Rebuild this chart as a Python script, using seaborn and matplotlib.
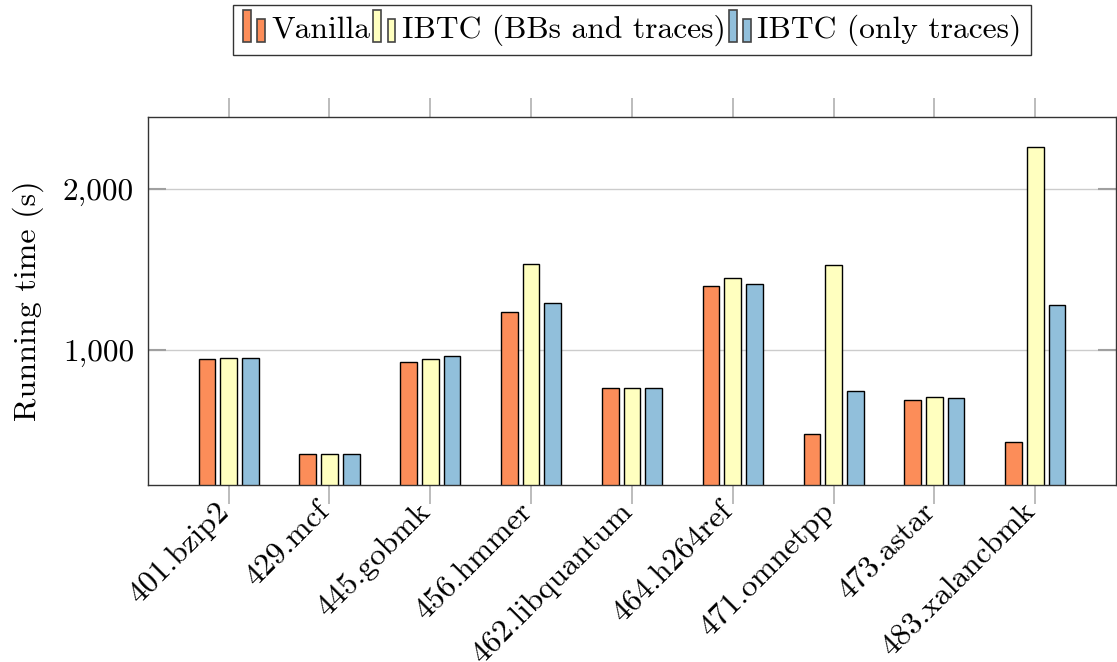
import matplotlib
matplotlib.use("Agg")
import matplotlib.pyplot as plt
from matplotlib.legend_handler import HandlerBase
from matplotlib.patches import Rectangle
from matplotlib.ticker import FuncFormatter, FixedLocator
from matplotlib.transforms import ScaledTranslation
import seaborn as sns
import pandas as pd

benchmarks = ["401.bzip2", "429.mcf", "445.gobmk", "456.hmmer", "462.libquantum",
              "464.h264ref", "471.omnetpp", "473.astar", "483.xalancbmk"]
vanilla = [944, 354, 925, 1236, 764, 1398, 478, 689, 429]
ibtc_bb = [950, 354, 944, 1534, 764, 1447, 1528, 708, 2261]
ibtc_tr = [950, 354, 963, 1292, 764, 1410, 745, 702, 1280]
series = ["Vanilla", "IBTC (BBs and traces)", "IBTC (only traces)"]
colors = ["#FC8D59", "#FFFFBF", "#91BFDB"]

rows = []
for name, vals in zip(series, [vanilla, ibtc_bb, ibtc_tr]):
    for b, v in zip(benchmarks, vals):
        rows.append({"bench": b, "series": name, "time": v})
df = pd.DataFrame(rows)

sns.set_theme(style="white")
plt.rcParams["font.family"] = ["cmr10", "DejaVu Serif"]
plt.rcParams["axes.formatter.use_mathtext"] = True
plt.rcParams["mathtext.fontset"] = "cm"
plt.rcParams["text.color"] = "black"
plt.rcParams["xtick.labelcolor"] = "black"
plt.rcParams["ytick.labelcolor"] = "black"
plt.rcParams["axes.labelcolor"] = "black"

fig = plt.figure(figsize=(11.17, 6.62), dpi=100)
ax = fig.add_axes([148 / 1117, 1 - 485 / 662, 1 - 148 / 1117 - 0.001, (485 - 117) / 662])

sns.barplot(data=df, x="bench", y="time", hue="series", palette=colors,
            order=benchmarks, hue_order=series, width=0.645, gap=0.23,
            edgecolor="black", linewidth=1.0, ax=ax, legend=False, errorbar=None,
            saturation=1)

ax.set_xlim(-0.8, 8.8)
ax.set_ylim(161, 2447)
ax.yaxis.set_major_locator(FixedLocator([1000, 2000]))
ax.yaxis.set_major_formatter(FuncFormatter(lambda v, p: f"{v:,.0f}"))
ax.set_axisbelow(True)
ax.grid(axis="y", color="#cccccc", linewidth=1.0)
ax.grid(axis="x", visible=False)
for s in ax.spines.values():
    s.set_color("#333333")
    s.set_linewidth(1.0)
    s.set_visible(True)

ax.tick_params(axis="x", which="major", direction="out", length=14, width=1.2,
               color="#b0b0b0", top=True, bottom=True, labelsize=22.7, pad=2)
ax.tick_params(axis="y", which="major", direction="in", length=13, width=1.5,
               color="#a0a0a0", left=True, right=True, labelsize=22.5, pad=10)
offset = ScaledTranslation(-4 / 100, 0, fig.dpi_scale_trans)
for lab in ax.get_xticklabels():
    lab.set_rotation(45)
    lab.set_ha("right")
    lab.set_va("center")
    lab.set_rotation_mode("anchor")
    lab.set_transform(lab.get_transform() + offset)
ax.set_xlabel("")
ax.set_ylabel("Running time (s)", fontsize=23, labelpad=14)


class TwoBarHandler(HandlerBase):
    def __init__(self, color):
        super().__init__()
        self.color = color

    def create_artists(self, legend, orig_handle, xdescent, ydescent, width,
                       height, fontsize, trans):
        bw = width * 0.33
        r1 = Rectangle((-xdescent, -ydescent - 0.2 * height), bw, height * 1.45,
                       facecolor=self.color, edgecolor="#444444", lw=1.2, transform=trans)
        r2 = Rectangle((-xdescent + width * 0.6, -ydescent - 0.2 * height), bw, height * 1.05,
                       facecolor=self.color, edgecolor="#444444", lw=1.2, transform=trans)
        return [r1, r2]


handles = [Rectangle((0, 0), 1, 1, facecolor=c) for c in colors]
hmap = {h: TwoBarHandler(c) for h, c in zip(handles, colors)}
leg = fig.legend(handles, series, handler_map=hmap, loc="upper center",
                 bbox_to_anchor=(0.566, 0.993), ncol=3, fontsize=22.7,
                 frameon=True, fancybox=False, edgecolor="black",
                 handlelength=0.75, handletextpad=0.15, columnspacing=0.1,
                 borderpad=0.3, borderaxespad=0)
leg.get_frame().set_linewidth(1.0)

fig.savefig("out.png", dpi=100)
